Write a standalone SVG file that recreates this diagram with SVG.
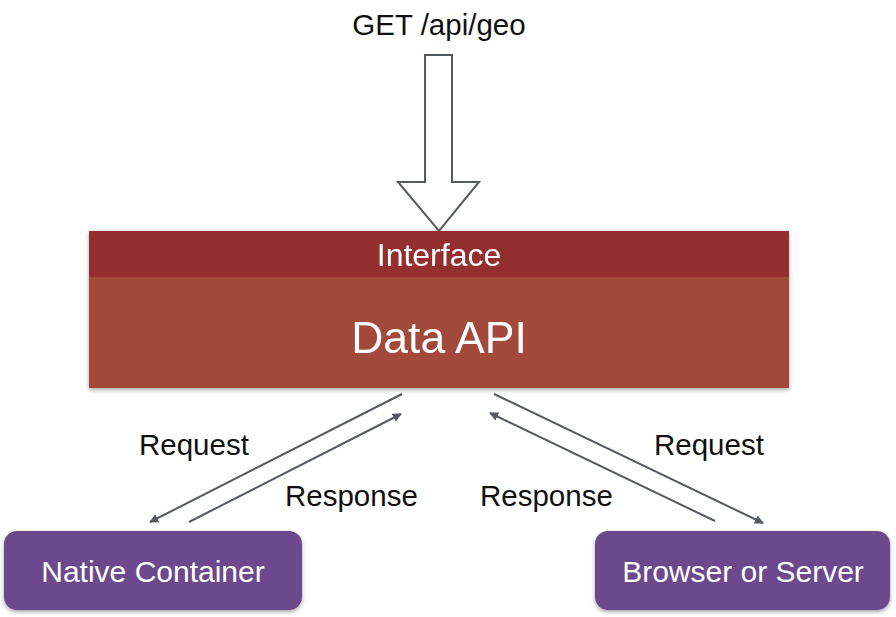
<svg xmlns="http://www.w3.org/2000/svg" width="896" height="617" viewBox="0 0 896 617">
<style>
.lbl{font-family:"Liberation Sans",Arial,sans-serif;font-size:29.5px;fill:#111;}
.wt{font-family:"Liberation Sans",Arial,sans-serif;fill:#fff;text-anchor:middle;}
.conn{stroke:#555a60;stroke-width:2;fill:none;marker-end:url(#ah);}
.box{fill:#6c4a8c;}
</style>
<defs>
<marker id="ah" viewBox="0 0 10 10" refX="9" refY="5" markerWidth="9" markerHeight="9" orient="auto" markerUnits="userSpaceOnUse">
<path d="M0,0 L10,5 L0,10 z" fill="#555a60"/>
</marker>
<filter id="sh" x="-5%" y="-10%" width="110%" height="125%">
<feDropShadow dx="0" dy="2" stdDeviation="2" flood-color="#000" flood-opacity="0.35"/>
</filter>
</defs>
<rect width="896" height="617" fill="#fff"/>
<g id="request-label">
<text class="lbl" x="439" y="35" text-anchor="middle">GET /api/geo</text>
<path d="M425,55 L452,55 L452,182 L479,182 L439,231 L398,182 L425,182 Z" fill="#fff" stroke="#555a60" stroke-width="2" stroke-linejoin="miter"/>
</g>
<g id="data-api" filter="url(#sh)">
<rect x="89" y="231" width="700" height="157" fill="#a2493a"/>
<rect x="89" y="231" width="700" height="46" fill="#952d2e"/>
<text class="wt" x="439" y="266" font-size="32">Interface</text>
<text class="wt" x="439" y="353" font-size="44.5">Data API</text>
</g>
<g id="connectors">
<line class="conn" x1="402" y1="394" x2="150" y2="522"/>
<line class="conn" x1="189" y1="522" x2="401" y2="414"/>
<line class="conn" x1="494" y1="394" x2="763" y2="523"/>
<line class="conn" x1="715" y1="521" x2="490" y2="413"/>
<text class="lbl" x="139" y="455">Request</text>
<text class="lbl" x="285" y="506">Response</text>
<text class="lbl" x="654" y="455">Request</text>
<text class="lbl" x="480" y="506">Response</text>
</g>
<g id="native-container">
<rect class="box" x="4" y="531" width="298" height="79" rx="13" filter="url(#sh)"/>
<text class="wt" x="153" y="582" font-size="30">Native Container</text>
</g>
<g id="browser-or-server">
<rect class="box" x="595" y="531" width="295" height="79" rx="13" filter="url(#sh)"/>
<text class="wt" x="743" y="582" font-size="30">Browser or Server</text>
</g>
</svg>
